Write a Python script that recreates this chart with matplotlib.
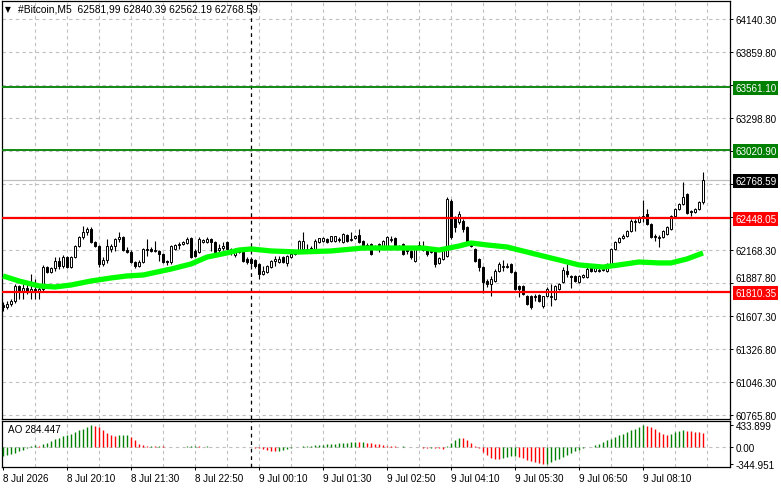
import numpy as np
import matplotlib
matplotlib.use('Agg')
import matplotlib.pyplot as plt

plt.rcParams['font.family'] = ['Liberation Sans', 'DejaVu Sans']

# 5-minute bars from 8 Jul 18:50, rows are open, high, low, close
ohlc = [
    [61704, 61729, 61652, 61686], [61686, 61738, 61669, 61712], [61712, 61755, 61695, 61738],
    [61738, 61883, 61721, 61866], [61866, 61874, 61755, 61823], [61823, 61883, 61755, 61849],
    [61849, 61883, 61797, 61823], [61823, 61968, 61755, 61840], [61840, 61925, 61755, 61823],
    [61823, 61874, 61755, 61840], [61840, 62045, 61823, 62027], [62027, 62036, 61976, 61985],
    [61985, 62027, 61976, 62019], [62019, 62112, 61993, 62079], [62079, 62112, 62010, 62036],
    [62036, 62130, 62019, 62112], [62112, 62121, 62019, 62027], [62027, 62121, 62019, 62112],
    [62112, 62215, 62104, 62206], [62206, 62291, 62198, 62283], [62283, 62377, 62266, 62326],
    [62326, 62368, 62300, 62351], [62351, 62368, 62232, 62240], [62240, 62249, 62198, 62206],
    [62206, 62215, 62027, 62053], [62053, 62112, 62036, 62087], [62087, 62266, 62062, 62206],
    [62181, 62223, 62155, 62206], [62206, 62274, 62164, 62266], [62266, 62326, 62240, 62283],
    [62283, 62291, 62164, 62172], [62172, 62198, 62147, 62155], [62155, 62172, 62062, 62070],
    [62070, 62079, 62019, 62036], [62036, 62087, 62027, 62070], [62070, 62189, 62062, 62181],
    [62181, 62266, 62121, 62172], [62181, 62198, 62155, 62164], [62164, 62249, 62155, 62172],
    [62164, 62172, 62079, 62138], [62138, 62147, 62062, 62070], [62079, 62087, 62045, 62070],
    [62070, 62215, 62053, 62206], [62181, 62223, 62172, 62215], [62215, 62240, 62181, 62223],
    [62223, 62249, 62215, 62240], [62232, 62283, 62223, 62266], [62274, 62283, 62104, 62112],
    [62164, 62181, 62112, 62121], [62155, 62283, 62147, 62266], [62240, 62266, 62232, 62257],
    [62240, 62283, 62232, 62266], [62266, 62274, 62164, 62240], [62240, 62249, 62147, 62155],
    [62172, 62223, 62155, 62189], [62189, 62240, 62172, 62206], [62240, 62249, 62172, 62181],
    [62155, 62189, 62130, 62181], [62130, 62189, 62112, 62181], [62181, 62189, 62147, 62155],
    [62155, 62164, 62070, 62079], [62096, 62112, 62053, 62070], [62096, 62112, 62036, 62062],
    [62087, 62096, 62019, 62036], [62053, 62062, 61925, 61968], [61968, 62036, 61959, 61993],
    [61985, 62045, 61976, 62036], [62027, 62087, 62019, 62079], [62079, 62121, 62036, 62096],
    [62070, 62121, 62062, 62096], [62112, 62121, 62062, 62070], [62062, 62130, 62036, 62121],
    [62112, 62147, 62104, 62138], [62138, 62164, 62130, 62164], [62164, 62257, 62155, 62249],
    [62181, 62326, 62172, 62249], [62172, 62223, 62164, 62181], [62181, 62206, 62172, 62189],
    [62181, 62266, 62172, 62249], [62240, 62274, 62232, 62274], [62249, 62283, 62240, 62274],
    [62266, 62274, 62232, 62240], [62249, 62291, 62240, 62291], [62249, 62291, 62240, 62291],
    [62266, 62283, 62240, 62257], [62240, 62317, 62232, 62309], [62300, 62309, 62240, 62249],
    [62257, 62326, 62249, 62266], [62274, 62300, 62266, 62291], [62300, 62351, 62232, 62240],
    [62249, 62257, 62189, 62198], [62215, 62232, 62181, 62206], [62223, 62232, 62130, 62138],
    [62189, 62215, 62181, 62198], [62215, 62232, 62155, 62223], [62206, 62257, 62198, 62249],
    [62206, 62291, 62198, 62283], [62257, 62291, 62240, 62266], [62274, 62283, 62198, 62206],
    [62206, 62215, 62181, 62198], [62223, 62232, 62130, 62138], [62172, 62181, 62138, 62164],
    [62164, 62172, 62096, 62112], [62079, 62189, 62070, 62181], [62206, 62249, 62181, 62215],
    [62172, 62249, 62164, 62181], [62181, 62189, 62121, 62138], [62155, 62181, 62147, 62164],
    [62164, 62172, 62027, 62053], [62062, 62112, 62053, 62104], [62096, 62189, 62087, 62181],
    [62121, 62624, 62112, 62607], [62590, 62607, 62266, 62283], [62445, 62462, 62326, 62368],
    [62411, 62504, 62394, 62479], [62419, 62436, 62326, 62351], [62368, 62377, 62215, 62223],
    [62240, 62249, 62198, 62206], [62181, 62189, 62070, 62079], [62096, 62104, 61993, 62027],
    [62027, 62036, 61806, 61900], [61908, 61925, 61857, 61883], [61883, 61951, 61780, 61925],
    [61908, 62010, 61900, 61993], [61993, 62070, 61985, 62053], [62027, 62087, 61993, 62036],
    [62027, 62062, 62019, 62036], [62053, 62062, 61976, 61985], [61985, 61993, 61832, 61840],
    [61866, 61874, 61772, 61840], [61866, 61874, 61789, 61797], [61780, 61789, 61704, 61712],
    [61780, 61789, 61669, 61686], [61780, 61797, 61738, 61772], [61789, 61797, 61729, 61738],
    [61695, 61780, 61678, 61780], [61780, 61857, 61772, 61840], [61772, 61883, 61695, 61780],
    [61755, 61874, 61746, 61866], [61840, 61891, 61832, 61883], [61900, 62027, 61891, 62002],
    [61993, 62053, 61942, 61968], [61951, 61959, 61849, 61942], [61951, 61959, 61900, 61908],
    [61900, 61959, 61891, 61951], [61942, 61968, 61934, 61959], [61942, 62053, 61934, 62010],
    [62027, 62036, 61985, 61993], [61993, 62036, 61985, 62027], [61993, 62019, 61985, 62002],
    [62002, 62019, 61993, 62010], [61993, 62062, 61985, 62053], [62053, 62189, 62045, 62181],
    [62181, 62249, 62172, 62240], [62240, 62283, 62232, 62274], [62274, 62309, 62266, 62291],
    [62291, 62343, 62283, 62334], [62334, 62436, 62326, 62419], [62411, 62436, 62334, 62419],
    [62411, 62462, 62402, 62453], [62453, 62598, 62411, 62462], [62479, 62521, 62385, 62394],
    [62394, 62402, 62274, 62283], [62291, 62309, 62249, 62283], [62274, 62300, 62198, 62283],
    [62283, 62343, 62274, 62334], [62309, 62377, 62300, 62368], [62351, 62470, 62343, 62462],
    [62462, 62530, 62453, 62521], [62521, 62573, 62513, 62564], [62564, 62752, 62556, 62624],
    [62649, 62658, 62479, 62487], [62504, 62513, 62462, 62496], [62496, 62530, 62487, 62521],
    [62521, 62590, 62513, 62581], [62581.99, 62840.39, 62562.19, 62768.59],
]

# moving average at a few bars
ma_bars = [0, 4, 9, 13, 17, 22, 27, 31, 35, 42, 47, 51, 56, 59, 62, 67, 74, 82, 90,
           97, 105, 109, 114, 117, 121, 126, 129, 133, 137, 140, 144, 150, 154, 159,
           164, 167, 171, 175]
ma_values = [61951, 61908, 61866, 61857, 61874, 61908, 61934, 61951, 61959, 62010,
             62053, 62112, 62147, 62172, 62181, 62164, 62155, 62164, 62189, 62189,
             62189, 62172, 62206, 62232, 62215, 62198, 62172, 62138, 62104, 62079,
             62045, 62027, 62045, 62070, 62062, 62062, 62096, 62147]

# Awesome Oscillator, one value per bar
ao_values = [
    -186, -167, -147, -120, -80, -53, -13, 20, 33, 30,
    53, 87, 120, 153, 187, 220, 247, 267, 293, 333,
    367, 400, 434, 425, 400, 333, 280, 240, 213, 233,
    247, 250, 200, 133, 53, 33, 27, 30, 25, 28,
    20, 10, 5, 3, 6, 8, 12, 15, 18, 14,
    10, 12, 8, 10, 7, 9, 6, 8, 5, 7,
    4, 2, -3, -10, -20, -33, -53, -73, -87, -80,
    -60, -40, -27, -7, 5, 12, 20, 27, 33, 40,
    47, 53, 60, 67, 73, 80, 87, 93, 100, 97,
    100, 87, 80, 67, 53, 40, 27, 20, 15, 10,
    12, 8, 5, 7, -3, -10, -15, -12, -20, -25,
    -30, 27, 73, 133, 187, 180, 140, 80, 20, -13,
    -100, -160, -213, -233, -240, -220, -200, -180, -170, -190,
    -220, -253, -280, -307, -327, -345, -330, -300, -267, -233,
    -200, -160, -120, -87, -53, -27, -7, 10, 40, 67,
    100, 133, 167, 200, 233, 267, 300, 333, 367, 400,
    434, 420, 393, 353, 307, 267, 240, 253, 293, 320,
    333, 327, 313, 307, 293, 284.447,
]

grid_prices = [64140.30, 63859.80, 63579.30, 63298.80, 63018.30, 62737.80, 62457.30,
               62168.30, 61887.80, 61607.30, 61326.80, 61046.30, 60765.80]
grid_labels = ['64140.30', '63859.80', '', '63298.80', '', '', '',
               '62168.30', '61887.80', '61607.30', '61326.80', '61046.30', '60765.80']

level_prices = [63561.10, 63020.90, 62448.05, 61810.35]
level_colors = ['#008000', '#008000', '#FF0000', '#FF0000']
last_price = 62768.59

ao_ticks = [433.899, 0.0, -344.951]
ao_tick_labels = ['433.899', '0.00', '-344.951']

time_bars = [0, 16, 32, 48, 64, 80, 96, 112, 128, 144, 160]
time_labels = ['8 Jul 2026', '8 Jul 20:10', '8 Jul 21:30', '8 Jul 22:50', '9 Jul 00:10',
               '9 Jul 01:30', '9 Jul 02:50', '9 Jul 04:10', '9 Jul 05:30', '9 Jul 06:50',
               '9 Jul 08:10']
day_break = 62
header = '#Bitcoin,M5  62581,99 62840.39 62562.19 62768.59'

W, H = 781, 489
fig = plt.figure(figsize=(W / 100, H / 100), dpi=100)
fs = 7.1

def px_box(x0, y0, x1, y1):
    return [x0 / W, 1 - y1 / H, (x1 - x0) / W, (y1 - y0) / H]

ax = fig.add_axes(px_box(2, 2, 730, 420))
ax_ao = fig.add_axes(px_box(2, 422, 730, 468), sharex=ax)

o, h, l, c = np.array(ohlc, dtype=float).T
idx = np.arange(len(o))
up = c >= o
grid_kw = dict(color='#C0C0C0', lw=0.8, ls=(0, (3, 3)), zorder=0)

# main window
for p in grid_prices:
    ax.axhline(p, **grid_kw)
for a in (ax, ax_ao):
    for xb in range(8, 184, 8):
        a.axvline(xb, **grid_kw)
    a.axvline(day_break, color='black', lw=0.9, ls=(0, (3, 3)), zorder=1)

ax.axhline(last_price, color='#C0C0C0', lw=0.9, zorder=1)
ax.vlines(idx, l, h, color='black', lw=0.8, zorder=2)
body = np.maximum(np.abs(c - o), 1.5)
ax.bar(idx[up], body[up], bottom=o[up], width=0.55, color='white',
       edgecolor='black', lw=0.7, zorder=3)
ax.bar(idx[~up], body[~up], bottom=c[~up], width=0.55, color='black',
       edgecolor='black', lw=0.7, zorder=3)
ax.plot(ma_bars, ma_values, color='#00FF00', lw=3.8, solid_capstyle='butt', zorder=4)
for p, col in zip(level_prices, level_colors):
    ax.axhline(p, color=col, lw=1.6 if col == '#FF0000' else 1.3, zorder=5)

ax.set_xlim(-0.25, 181.75)
ax.set_ylim(60732.3, 64293.7)
ax.set_yticks(grid_prices)
ax.set_yticklabels(grid_labels)
ax.yaxis.tick_right()
ax.tick_params(axis='y', length=2.2, width=0.7, pad=2, labelsize=fs)
ax.tick_params(axis='x', bottom=False, labelbottom=False)
# the 61887.80 label sits just above the red price box in the reference
for lbl in ax.get_yticklabels():
    if lbl.get_text() == '61887.80':
        lbl.set_va('bottom')

label_kw = dict(xycoords=('axes fraction', 'data'), textcoords='offset pixels',
                ha='left', va='center', fontsize=fs, color='white', zorder=10,
                annotation_clip=False)
for p, col in zip(level_prices, level_colors):
    ax.annotate(f'{p:.2f}', xy=(1, p), xytext=(5, -1),
                bbox=dict(boxstyle='square,pad=0.2', fc=col, ec='none'), **label_kw)
ax.annotate(f'{last_price:.2f}', xy=(1, last_price), xytext=(5, -1),
            bbox=dict(boxstyle='square,pad=0.2', fc='black', ec='none'), **label_kw)

fig.text(5 / W, 1 - 10 / H, '\u25bc', fontsize=5.5, va='center', ha='left',
         family='DejaVu Sans')
fig.text(18 / W, 1 - 10 / H, header, fontsize=7.4, va='center', ha='left')

# oscillator window
ao = np.array(ao_values, dtype=float)
prev = np.concatenate([[ao[0] - 1], ao[:-1]])
ao_cols = np.where(ao > prev, '#008000', '#FF0000')
ax_ao.axhline(0, **grid_kw)
ax_ao.vlines(idx, 0, ao, colors=ao_cols, lw=1.0, zorder=3)
ax_ao.set_ylim(-400, 520)
ax_ao.set_yticks(ao_ticks)
ax_ao.set_yticklabels(ao_tick_labels)
ax_ao.yaxis.tick_right()
ax_ao.tick_params(axis='y', length=2.2, width=0.7, pad=2, labelsize=fs)
ax_ao.set_xticks(time_bars)
ax_ao.set_xticklabels(time_labels)
ax_ao.tick_params(axis='x', length=2.2, width=0.7, pad=2, labelsize=fs)
for lbl in ax_ao.get_xticklabels():
    lbl.set_horizontalalignment('left')
ax_ao.text(6 / 728, 1 - 8 / 46, 'AO 284.447', transform=ax_ao.transAxes,
           fontsize=fs, va='center', ha='left')

for a in (ax, ax_ao):
    for s in a.spines.values():
        s.set_linewidth(0.9)

fig.savefig('out.png', dpi=100)
